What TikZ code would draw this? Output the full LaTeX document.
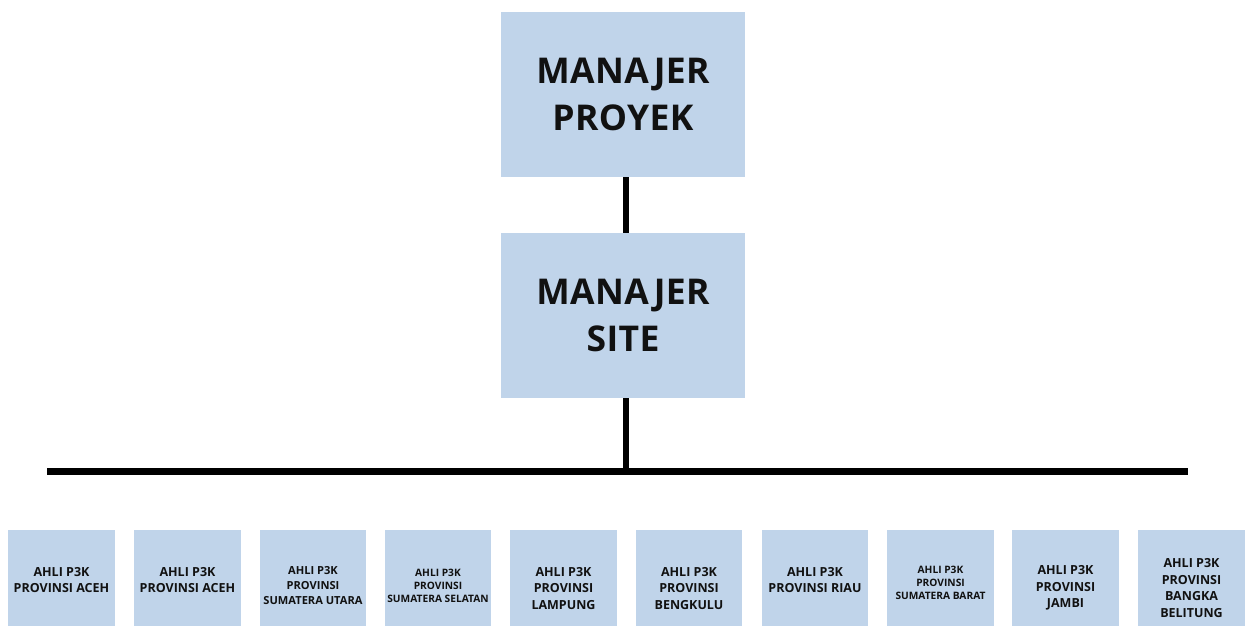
\documentclass[tikz,border=0pt]{standalone}
\usepackage{fontspec}
\setmainfont{Open Sans}
\definecolor{boxblue}{RGB}{192,212,234}
\definecolor{ink}{RGB}{17,17,17}
\newcommand\bigfnt{\fontsize{35.5}{47}\selectfont\bfseries\addfontfeature{LetterSpace=1}}
\newcommand\smfnt{\fontsize{12.5}{16.5}\selectfont\bfseries}
\newcommand\mdfnt{\fontsize{11.1}{15}\selectfont\bfseries}
\newcommand\tnfnt{\fontsize{10.2}{13}\selectfont\bfseries}
\begin{document}
\begin{tikzpicture}[x=1pt,y=-1pt,
  bigbox/.style={fill=boxblue, minimum width=244pt, minimum height=165.5pt, inner sep=0pt, align=center, font=\bigfnt, text=ink},
  pbox/.style={fill=boxblue, minimum width=106.5pt, inner sep=0pt, align=center, anchor=north, text=ink},
  conn/.style={line width=6pt, draw=black}]
\useasboundingbox (0,0) rectangle (1245,626);
\fill[white] (0,0) rectangle (1245,626);
\node[bigbox] (top) at (623,94.5) {MANAJER\\PROYEK};
\node[bigbox] (mid) at (623,315.5) {MANAJER\\SITE};
\coordinate (hl) at (47,471);
\coordinate (hr) at (1188,471);
\draw[conn] ([xshift=3pt]top.south) -- ([xshift=3pt]mid.north);
\draw[conn] ([xshift=3pt]mid.south) -- ([xshift=3pt]mid.south |- hl);
\draw[line width=7pt] (hl) -- (hr);
\node[pbox, minimum height=100pt, font=\smfnt] (p1) at (61.5,530) {AHLI P3K\\PROVINSI ACEH};
\node[pbox, minimum height=100pt, font=\smfnt] (p2) at (187.5,530) {AHLI P3K\\PROVINSI ACEH};
\node[pbox, minimum height=111.4pt, font=\mdfnt] (p3) at (313,530) {AHLI P3K\\PROVINSI\\SUMATERA UTARA};
\node[pbox, minimum height=112pt, font=\tnfnt] (p4) at (438,530) {AHLI P3K\\PROVINSI\\SUMATERA SELATAN};
\node[pbox, minimum height=116pt, font=\smfnt] (p5) at (563.5,530) {AHLI P3K\\PROVINSI\\LAMPUNG};
\node[pbox, minimum height=116pt, font=\smfnt] (p6) at (689,530) {AHLI P3K\\PROVINSI\\BENGKULU};
\node[pbox, minimum height=100pt, font=\smfnt] (p7) at (815,530) {AHLI P3K\\PROVINSI RIAU};
\node[pbox, minimum height=105.4pt, font=\tnfnt] (p8) at (940.5,530) {AHLI P3K\\PROVINSI\\SUMATERA BARAT};
\node[pbox, minimum height=116pt, font=\smfnt] (p9) at (1065.5,530) {AHLI P3K\\PROVINSI\\JAMBI};
\node[pbox, minimum height=116pt, font=\smfnt] (p10) at (1191.5,530) {AHLI P3K\\PROVINSI\\BANGKA\\BELITUNG};
\end{tikzpicture}
\end{document}
